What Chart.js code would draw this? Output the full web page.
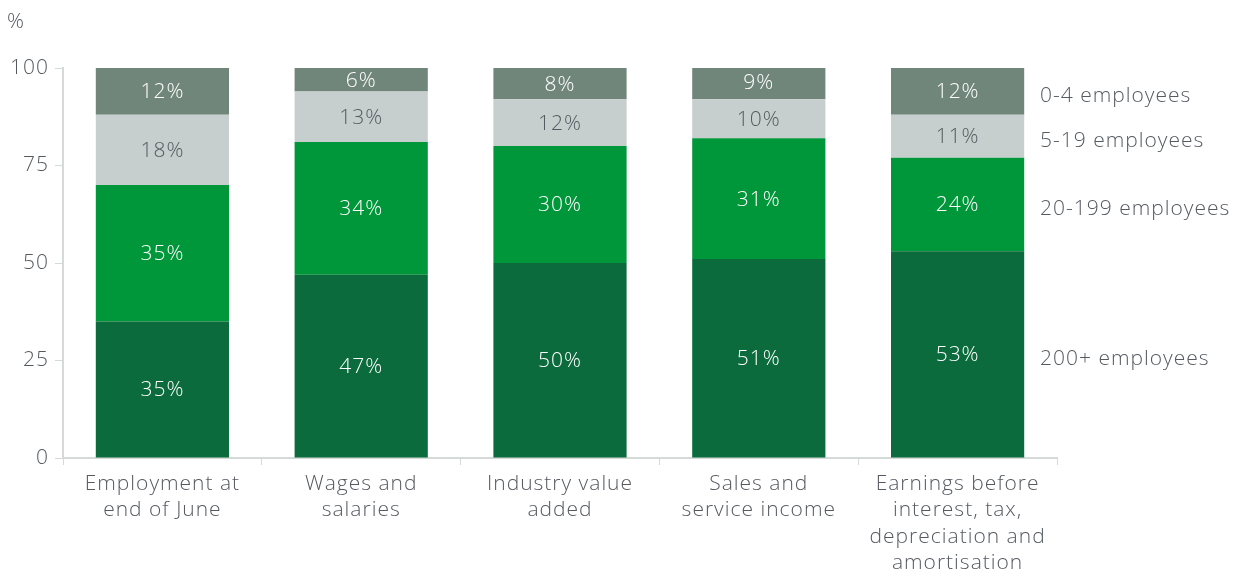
<!DOCTYPE html>
<html>
<head>
<meta charset="utf-8">
<script src="https://cdn.jsdelivr.net/npm/chart.js@4/dist/chart.umd.min.js"></script>
<style>
  html, body { margin: 0; padding: 0; background: #fff; }
  #wrap { position: relative; width: 1234px; height: 577px; }
  #unit { position: absolute; left: 7px; top: 6px; font: 300 21px "Open Sans", sans-serif; letter-spacing: 1px; color: #555a60; }
</style>
</head>
<body>
<div id="wrap">
  <div id="unit">%</div>
  <canvas id="sizeChart" width="1234" height="577"></canvas>
</div>
<script>
// Business size shares by measure
const categories = [
    ['Employment at', 'end of June'],
    ['Wages and', 'salaries'],
    ['Industry value', 'added'],
    ['Sales and', 'service income'],
    ['Earnings before', 'interest, tax,', 'depreciation and', 'amortisation']
];
const large = [35, 47, 50, 51, 53];      // 200+ employees
const medium = [35, 34, 30, 31, 24];     // 20-199 employees
const small = [18, 13, 12, 10, 11];      // 5-19 employees
const micro = [12, 6, 8, 9, 12];         // 0-4 employees
const yTicks = [0, 25, 50, 75, 100];

const textGrey = '#555a60';
const axisGrey = '#d3dad8';
const font = '"Open Sans", sans-serif';
const spacing = '1px';

// wider tracking for every piece of canvas text
const trackingPlugin = {
    id: 'tracking',
    beforeInit(chart) { chart.ctx.letterSpacing = spacing; },
    beforeUpdate(chart) { chart.ctx.letterSpacing = spacing; },
    beforeDraw(chart) { chart.ctx.letterSpacing = spacing; }
};

// value labels inside each segment, series names beside the last bar
const labelsPlugin = {
    id: 'segmentLabels',
    afterDatasetsDraw(chart) {
        const ctx = chart.ctx;
        ctx.save();
        ctx.letterSpacing = spacing;
        ctx.textAlign = 'center';
        ctx.textBaseline = 'middle';
        ctx.font = '300 21px ' + font;
        chart.data.datasets.forEach((ds, i) => {
            const meta = chart.getDatasetMeta(i);
            meta.data.forEach((bar, j) => {
                const midY = (bar.y + bar.base) / 2;
                ctx.fillStyle = ds.labelColor;
                ctx.fillText(ds.data[j] + '%', bar.x, midY + 1);
            });
        });
        ctx.textAlign = 'left';
        chart.data.datasets.forEach((ds, i) => {
            const meta = chart.getDatasetMeta(i);
            const bar = meta.data[meta.data.length - 1];
            const midY = (Math.max(bar.y, chart.chartArea.top) + bar.base) / 2;
            ctx.fillStyle = textGrey;
            ctx.fillText(ds.label, chart.chartArea.right - 17, midY + 5);
        });
        ctx.restore();
    }
};

new Chart(document.getElementById('sizeChart'), {
    type: 'bar',
    data: {
        labels: categories,
        datasets: [
            { label: '200+ employees', data: large, backgroundColor: '#0b6b3c', labelColor: '#ffffff' },
            { label: '20-199 employees', data: medium, backgroundColor: '#00963a', labelColor: '#ffffff' },
            { label: '5-19 employees', data: small, backgroundColor: '#c6cfcd', labelColor: textGrey },
            { label: '0-4 employees', data: micro, backgroundColor: '#71867b', labelColor: '#ffffff' }
        ]
    },
    options: {
        responsive: false,
        animation: false,
        events: [],
        layout: { padding: { top: 68, right: 177, left: 0, bottom: 0 } },
        datasets: { bar: { barPercentage: 0.67, categoryPercentage: 1, borderWidth: 0 } },
        plugins: { legend: { display: false }, tooltip: { enabled: false } },
        scales: {
            x: {
                stacked: true,
                grid: { drawOnChartArea: false, drawTicks: true, tickLength: 7, color: axisGrey, offset: true },
                border: { color: axisGrey, width: 2 },
                ticks: { color: textGrey, font: { family: font, size: 21, weight: 300, lineHeight: 1.25 }, maxRotation: 0, autoSkip: false, padding: 6 },
                afterFit(scale) { scale.height = 119; }
            },
            y: {
                stacked: true,
                min: 0,
                max: 100,
                afterBuildTicks(scale) { scale.ticks = yTicks.map(v => ({ value: v })); },
                grid: { drawOnChartArea: false, drawTicks: true, tickLength: 8, color: axisGrey },
                border: { color: axisGrey, width: 2 },
                ticks: { color: textGrey, font: { family: font, size: 21, weight: 300 }, padding: 6 },
                afterFit(scale) { scale.width = 63; }
            }
        }
    },
    plugins: [trackingPlugin, labelsPlugin]
});
</script>
</body>
</html>
